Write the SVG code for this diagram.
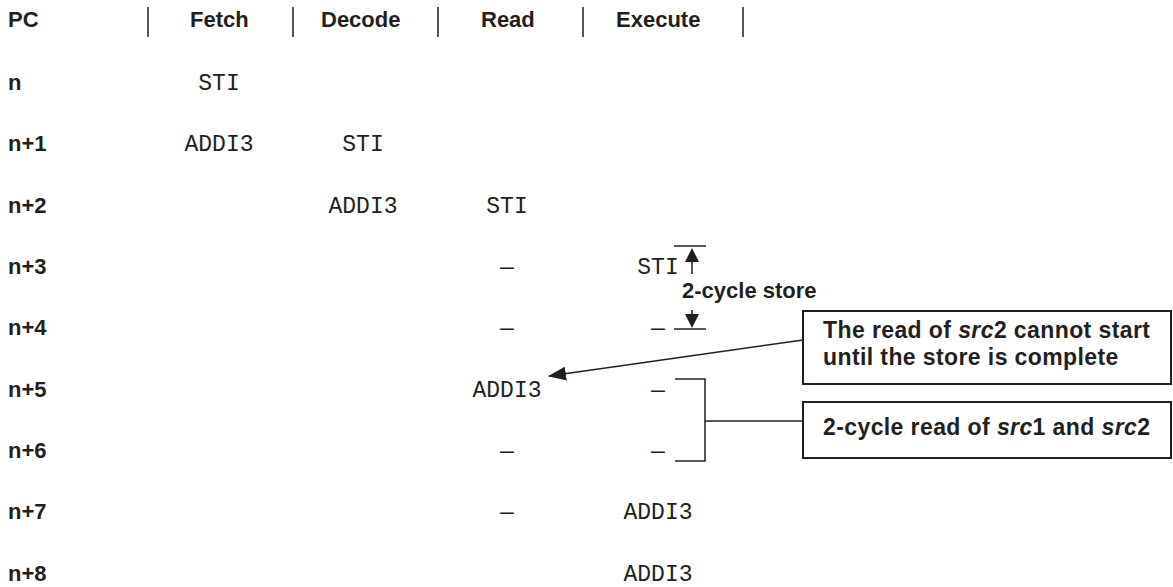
<svg xmlns="http://www.w3.org/2000/svg" width="1173" height="587" viewBox="0 0 1173 587">
<style>
.h{font-family:"Liberation Sans",Arial,sans-serif;font-weight:bold;font-size:22px;fill:#231f20}
.m{font-family:"Liberation Mono","Courier New",monospace;font-size:23px;fill:#231f20;text-anchor:middle}
.b{font-family:"Liberation Sans",Arial,sans-serif;font-weight:bold;font-size:23px;letter-spacing:0.4px;fill:#231f20}
.ln{stroke:#231f20;stroke-width:1.5;fill:none}
.box{stroke:#231f20;stroke-width:2;fill:#fff}
.it{font-style:italic}
</style>
<defs>
<marker id="ah" markerWidth="18" markerHeight="14" refX="17" refY="7" orient="auto" markerUnits="userSpaceOnUse">
<path d="M0,0 L18,7 L0,14 Z" fill="#231f20"/>
</marker>
</defs>
<g id="header">
<text class="h" x="8" y="27">PC</text>
<text class="h" x="190" y="27">Fetch</text>
<text class="h" x="321" y="27">Decode</text>
<text class="h" x="481" y="27">Read</text>
<text class="h" x="616" y="27">Execute</text>
<g class="ln">
<line x1="148" y1="7" x2="148" y2="37"/>
<line x1="293" y1="7" x2="293" y2="37"/>
<line x1="438" y1="7" x2="438" y2="37"/>
<line x1="583" y1="7" x2="583" y2="37"/>
<line x1="743" y1="7" x2="743" y2="37"/>
</g>
</g>
<g id="row-labels">
<text class="h" x="8" y="90">n</text>
<text class="h" x="8" y="151">n+1</text>
<text class="h" x="8" y="213">n+2</text>
<text class="h" x="8" y="274">n+3</text>
<text class="h" x="8" y="335">n+4</text>
<text class="h" x="8" y="397">n+5</text>
<text class="h" x="8" y="458">n+6</text>
<text class="h" x="8" y="519">n+7</text>
<text class="h" x="8" y="581">n+8</text>
</g>
<g id="cells">
<text class="m" x="219" y="90">STI</text>
<text class="m" x="219" y="151">ADDI3</text>
<text class="m" x="363" y="151">STI</text>
<text class="m" x="363" y="213">ADDI3</text>
<text class="m" x="507" y="213">STI</text>
<text class="m" x="507" y="274">—</text>
<text class="m" x="658" y="274">STI</text>
<text class="m" x="507" y="335">—</text>
<text class="m" x="658" y="335">—</text>
<text class="m" x="507" y="397">ADDI3</text>
<text class="m" x="658" y="397">—</text>
<text class="m" x="507" y="458">—</text>
<text class="m" x="658" y="458">—</text>
<text class="m" x="507" y="519">—</text>
<text class="m" x="658" y="519">ADDI3</text>
<text class="m" x="658" y="581">ADDI3</text>
</g>
<g id="store-annotation">
<line class="ln" x1="674" y1="246" x2="706" y2="246"/>
<line class="ln" x1="674" y1="329" x2="706" y2="329"/>
<line class="ln" x1="692" y1="260" x2="692" y2="274"/>
<path d="M692,248 L699,262 L685,262 Z" fill="#231f20"/>
<line class="ln" x1="692" y1="310" x2="692" y2="316"/>
<path d="M692,328 L699,314 L685,314 Z" fill="#231f20"/>
<text class="b" x="682" y="298" style="font-size:22px;letter-spacing:0">2-cycle store</text>
</g>
<g id="read-bracket">
<path class="ln" d="M675,379 H705 V461 H675"/>
</g>
<g id="box-store">
<rect class="box" x="803" y="311" width="368" height="73"/>
<text class="b" x="823" y="338">The read of <tspan class="it">src</tspan>2 cannot start</text>
<text class="b" x="823" y="365">until the store is complete</text>
</g>
<g id="box-read">
<rect class="box" x="803" y="402" width="368" height="56"/>
<text class="b" x="823" y="435">2-cycle read of <tspan class="it">src</tspan>1 and <tspan class="it">src</tspan>2</text>
</g>
<g id="connectors">
<line class="ln" x1="803" y1="340" x2="549" y2="376" marker-end="url(#ah)"/>
<line class="ln" x1="705" y1="421" x2="803" y2="421"/>
</g>
</svg>
